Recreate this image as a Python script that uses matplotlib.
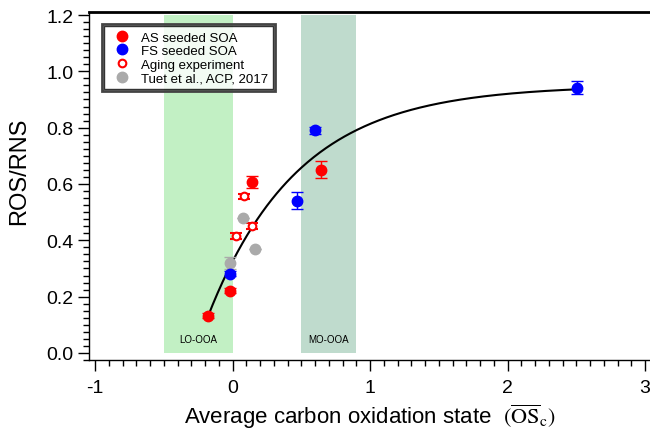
import numpy as np
import matplotlib.pyplot as plt
from matplotlib.patches import Rectangle
from matplotlib.ticker import MultipleLocator

plt.rcParams['font.family'] = ['Liberation Sans', 'DejaVu Sans']
plt.rcParams['mathtext.fontset'] = 'stix'

# ==========================
# Dati
# ==========================
as_x = [-0.18, -0.015, 0.145, 0.645]
as_y = [0.133, 0.221, 0.608, 0.650]
as_err = [0.010, 0.008, 0.022, 0.030]

fs_x = [-0.018, 0.467, 0.602, 2.508]
fs_y = [0.282, 0.540, 0.790, 0.942]
fs_err = [0.010, 0.030, 0.012, 0.024]

aging_x = [0.084, 0.144, 0.023]
aging_y = [0.556, 0.450, 0.416]
aging_err = [0.010, 0.010, 0.010]

tuet_x = [0.079, 0.164, -0.018]
tuet_y = [0.480, 0.368, 0.320]
tuet_err = [0.0, 0.0, 0.022]

# fit esponenziale: y = A - B*exp(-k*x)
fit_A, fit_B, fit_k = 0.95, 0.625, 1.52
fit_range = (-0.18, 2.5)

regions = [(-0.5, 0.0, 'LO-OOA', '#c2f0c4'), (0.5, 0.9, 'MO-OOA', '#bfdbcd')]

# ==========================
# Plot
# ==========================
fig = plt.figure(figsize=(6.5, 4.35), dpi=100)
ax = fig.add_axes([89/650, 74/435, 561/650, 348/435])

for x0, x1, lab, col in regions:
    ax.add_patch(Rectangle((x0, 0), x1 - x0, 1.2, facecolor=col, edgecolor='none', zorder=0))
    ax.text((x0 + x1) / 2, 0.05, lab, ha='center', va='center', fontsize=7)

xf = np.linspace(fit_range[0], fit_range[1], 300)
ax.plot(xf, fit_A - fit_B * np.exp(-fit_k * xf), color='black', lw=1.5, zorder=2)

ekw = dict(capsize=4, elinewidth=1, capthick=1, ls='none', zorder=3)
ax.errorbar(tuet_x, tuet_y, yerr=tuet_err, fmt='o', color='#aaaaaa', ms=7.5,
            label='Tuet et al., ACP, 2017', **ekw)
ax.errorbar(aging_x, aging_y, yerr=aging_err, fmt='o', color='red', mfc='white',
            mec='red', mew=1.5, ms=5.5, label='Aging experiment', **ekw)
ax.errorbar(fs_x, fs_y, yerr=fs_err, fmt='o', color='blue', ms=7.5,
            label='FS seeded SOA', **ekw)
ax.errorbar(as_x, as_y, yerr=as_err, fmt='o', color='red', ms=7.5,
            label='AS seeded SOA', **ekw)

ax.set_xlim(-1.044, 3.036)
ax.set_ylim(-0.025, 1.2107)
ax.xaxis.set_major_locator(MultipleLocator(1))
ax.xaxis.set_minor_locator(MultipleLocator(0.1))
ax.yaxis.set_major_locator(MultipleLocator(0.2))
ax.yaxis.set_minor_locator(MultipleLocator(0.025))
ax.set_xticks([-1, 0, 1, 2, 3], ['-1', '0', '1', '2', '3'])
ax.tick_params(which='major', length=8, width=1, labelsize=14)
ax.tick_params(which='minor', length=4, width=1)
ax.tick_params(axis='y', pad=3)
ax.tick_params(axis='x', pad=6)
ax.spines['right'].set_visible(False)
ax.spines['top'].set_linewidth(2)
ax.spines['left'].set_linewidth(1)
ax.spines['bottom'].set_linewidth(1)

ax.set_ylabel('ROS/RNS', fontsize=17)
ax.yaxis.set_label_coords(-0.105, 0.545)
ax.set_xlabel('Average carbon oxidation state  ' + r'$(\overline{\mathrm{OS}}_\mathrm{c})$',
              fontsize=16, labelpad=4)

h, l = ax.get_legend_handles_labels()
order = [3, 2, 1, 0]
leg = ax.legend([h[i][0] for i in order], [l[i] for i in order], loc='upper left',
                bbox_to_anchor=(15/561, 1 - 14/348), fontsize=9.5, frameon=True,
                fancybox=False, edgecolor='black', borderpad=0.4, labelspacing=0.1,
                handletextpad=0.5, handlelength=1.9, borderaxespad=0)
leg.get_frame().set_linewidth(1)

# doppia cornice della legenda
fig.canvas.draw()
bb = leg.get_window_extent()
pad = 2
fig.add_artist(Rectangle((bb.x0 - pad, bb.y0 - pad), bb.width + 2*pad, bb.height + 2*pad,
                         transform=None, fill=False, edgecolor='#444444', lw=2, zorder=10))

fig.savefig('out.png', dpi=100)
